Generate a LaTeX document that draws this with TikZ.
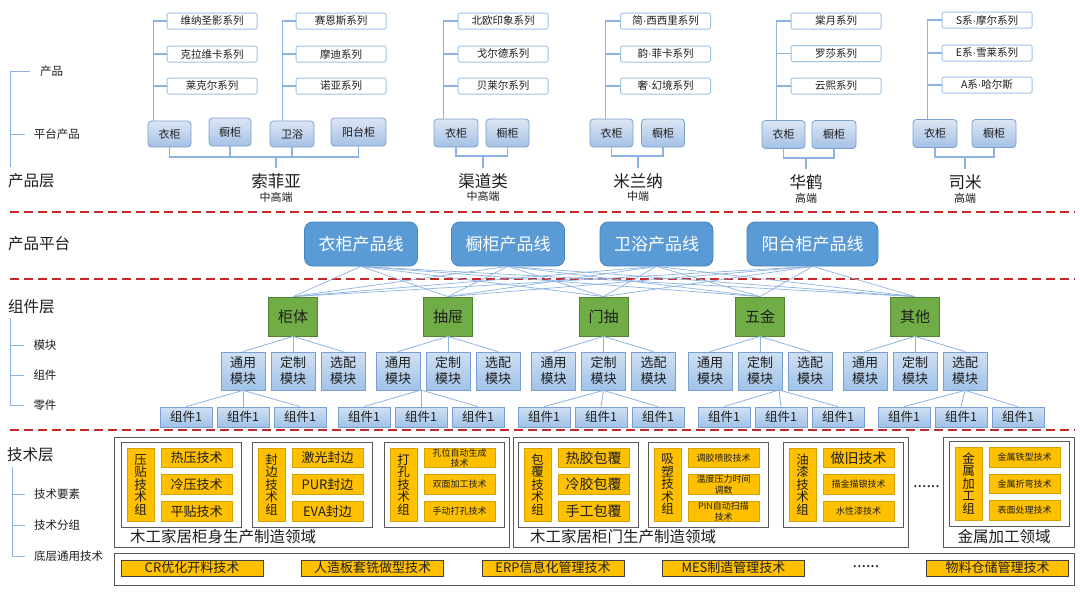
\documentclass[tikz,border=0pt]{standalone}
\usepackage{fontspec}
\setmainfont{Noto Sans CJK SC}
\newfontfamily\latinfont{Liberation Sans}
\usetikzlibrary{calc}
\definecolor{lnblue}{RGB}{141,179,226}
\definecolor{serbd}{RGB}{157,195,230}
\definecolor{pbtop}{RGB}{220,230,243}
\definecolor{pbbot}{RGB}{164,193,230}
\definecolor{pbbd}{RGB}{122,160,210}
\definecolor{plfill}{RGB}{91,155,213}
\definecolor{plbd}{RGB}{72,132,192}
\definecolor{grfill}{RGB}{112,173,71}
\definecolor{grbd}{RGB}{84,130,53}
\definecolor{mdtop}{RGB}{208,224,243}
\definecolor{mdbot}{RGB}{160,194,231}
\definecolor{mdbd}{RGB}{122,160,210}
\definecolor{ylw}{RGB}{255,192,0}
\definecolor{ylbd}{RGB}{214,162,0}
\definecolor{redd}{RGB}{196,40,40}
\definecolor{txt}{RGB}{30,30,30}
\definecolor{gbd}{RGB}{89,89,89}
\newcommand\myfs[2]{\fontsize{#1pt}{#2pt}\selectfont}
\newcommand\mdot{{\latinfont ·}}
\begin{document}
\begin{tikzpicture}[x=1pt,y=-1pt,
  every node/.style={inner sep=0pt,text=txt},
  tree/.style={draw=lnblue,line width=1.1pt},
  thin tree/.style={draw=lnblue,line width=0.8pt},
  mesh/.style={draw=lnblue,line width=0.7pt},
  sepline/.style={draw=redd,line width=1.8pt,dash pattern=on 9pt off 5pt},
  series/.style={draw=serbd,fill=white,line width=1pt,rounded corners=1.5pt,minimum width=90pt,minimum height=16pt,font=\myfs{10.5}{11}},
  pbox/.style={draw=pbbd,top color=pbtop,bottom color=pbbot,line width=0.8pt,rounded corners=3.5pt,minimum width=44pt,minimum height=28pt,font=\myfs{11}{12}},
  brand/.style={font=\myfs{16.5}{17}},
  grade/.style={font=\myfs{11}{12}},
  title/.style={anchor=west,font=\myfs{15.5}{16}},
  legend/.style={font=\myfs{11.5}{12}},
  pline/.style={fill=plfill,draw=plbd,line width=0.8pt,rounded corners=8pt,minimum height=44pt,minimum width=113pt,text=white,font=\myfs{17}{18}},
  grbox/.style={fill=grfill,draw=grbd,line width=0.8pt,minimum width=49pt,minimum height=39pt,font=\myfs{15}{16}},
  module/.style={draw=mdbd,top color=mdtop,bottom color=mdbot,line width=0.8pt,minimum width=44pt,minimum height=38pt,align=center,font=\myfs{13}{16}},
  comp/.style={draw=mdbd,top color=mdtop,bottom color=mdbot,line width=0.8pt,minimum width=52pt,minimum height=20pt,font=\myfs{12.5}{13}},
  dom/.style={draw=gbd,line width=1pt,fill=white},
  inbox/.style={draw=gbd,line width=1pt,fill=white,minimum width=120pt,minimum height=85pt},
  glab/.style={fill=ylw,draw=ylbd,line width=0.8pt,minimum width=27pt,minimum height=73pt,align=center,font=\myfs{12.5}{12.5}},
  tit/.style={fill=ylw,draw=ylbd,line width=0.8pt,minimum width=71pt,minimum height=19.5pt,align=center,font=\myfs{13}{13}},
  tis/.style={tit,font=\myfs{9}{10.5}},
  bit/.style={fill=ylw,draw=black!75,line width=1pt,minimum width=142pt,minimum height=16pt,font=\myfs{13}{13}},
  dname/.style={font=\myfs{15.5}{16}},
  dots/.style={font=\myfs{16}{16}}
]
\useasboundingbox (0,0) rectangle (1080,608);
\fill[white] (0,0) rectangle (1080,608);

% ---------------- legends and titles ----------------
\node[title] (t1) at (8,181) {产品层};
\node[title] (t2) at (8,244) {产品平台};
\node[title] (t3) at (8,307) {组件层};
\node[title] (t4) at (7,455) {技术层};

\node[legend] (l11) at (51.5,71) {产品};
\node[legend] (l12) at (57,134) {平台产品};
\coordinate (lv1a) at (10,71);
\coordinate (lv1b) at (10,167);
\draw[thin tree] (30,71) -- (lv1a) -- (lv1b);
\draw[thin tree] (10,134) -- (25,134);

\node[legend] (l21) at (45,345) {模块};
\node[legend] (l22) at (45,375) {组件};
\node[legend] (l23) at (45,405) {零件};
\coordinate (lv2a) at (10,318);
\coordinate (lv2b) at (10,405);
\draw[thin tree] (lv2a) -- (lv2b) -- (24,405);
\draw[thin tree] (10,345) -- (24,345);
\draw[thin tree] (10,375) -- (24,375);

\node[legend,anchor=west] (l31) at (34,494) {技术要素};
\node[legend,anchor=west] (l32) at (34,525) {技术分组};
\node[legend,anchor=west] (l33) at (34,556) {底层通用技术};
\coordinate (lv3a) at (12,467);
\coordinate (lv3b) at (12,556);
\draw[thin tree] (lv3a) -- (lv3b) -- (25,556);
\draw[thin tree] (12,494) -- (25,494);
\draw[thin tree] (12,525) -- (25,525);

% ---------------- separators ----------------
\draw[sepline] (10,212) -- (1075,212);
\draw[sepline] (10,279) -- (1075,279);
\draw[sepline] (10,430) -- (1075,430);

% ---------------- 索菲亚 ----------------
\node[series] (s11) at (212,21) {维纳圣影系列};
\node[series] (s12) at (212,54) {克拉维卡系列};
\node[series] (s13) at (212,86) {莱克尔系列};
\node[series] (s21) at (341,21) {赛恩斯系列};
\node[series] (s22) at (341,54) {摩迪系列};
\node[series] (s23) at (341,86) {诺亚系列};
\node[pbox,minimum width=43pt,minimum height=26pt] (a1) at (169.5,134) {衣柜};
\node[pbox,minimum width=42pt] (a2) at (230,132) {橱柜};
\node[pbox,minimum width=44pt,minimum height=26pt] (a3) at (292,134) {卫浴};
\node[pbox,minimum width=55pt] (a4) at (358.5,132) {阳台柜};
\coordinate (av1) at ([xshift=6pt]a1.north west);
\coordinate (av2) at ([xshift=13pt]a3.north west);
\draw[tree] (s11.west) -| (av1);
\draw[tree] (s12.west) -- (s12.west -| av1);
\draw[tree] (s13.west) -- (s13.west -| av1);
\draw[tree] (s21.west) -| (av2);
\draw[tree] (s22.west) -- (s22.west -| av2);
\draw[tree] (s23.west) -- (s23.west -| av2);
\coordinate (aj) at (276,157);
\node[brand] (n1) at (276,181) {索菲亚};
\node[grade] (d1) at (276,197) {中高端};
\draw[tree] (a1.south) |- (aj) -| (a4.south);
\draw[tree] (a2.south) -- (a2.south |- aj);
\draw[tree] (a3.south) -- (a3.south |- aj);
\draw[tree] (aj) -- ([yshift=5pt]n1.north);

% ---------------- 渠道类 ----------------
\node[series] (c1) at (503,21) {北欧印象系列};
\node[series] (c2) at (503,54) {戈尔德系列};
\node[series] (c3) at (503,86) {贝莱尔系列};
\node[pbox] (b1) at (456,133) {衣柜};
\node[pbox,minimum width=43pt] (b2) at (507.5,133) {橱柜};
\coordinate (bv) at ([xshift=10pt]b1.north west);
\draw[tree] (c1.west) -| (bv);
\draw[tree] (c2.west) -- (c2.west -| bv);
\draw[tree] (c3.west) -- (c3.west -| bv);
\coordinate (bj) at (483,156);
\node[brand] (n2) at (483,181) {渠道类};
\node[grade] (d2) at (483,196) {中高端};
\draw[tree] (b1.south) |- (bj) -| (b2.south);
\draw[tree] (bj) -- ([yshift=5pt]n2.north);

% ---------------- 米兰纳 ----------------
\node[series] (m1) at (665.5,21) {简\mdot 西西里系列};
\node[series] (m2) at (665.5,54) {韵\mdot 菲卡系列};
\node[series] (m3) at (665.5,86) {奢\mdot 幻境系列};
\node[pbox,minimum width=43pt] (e1) at (611.5,133) {衣柜};
\node[pbox,minimum width=43pt] (e2) at (663,133) {橱柜};
\coordinate (ev) at ([xshift=16pt]e1.north west);
\draw[tree] (m1.west) -| (ev);
\draw[tree] (m2.west) -- (m2.west -| ev);
\draw[tree] (m3.west) -- (m3.west -| ev);
\coordinate (ej) at (638,156);
\node[brand] (n3) at (638,181) {米兰纳};
\node[grade] (d3) at (638,196) {中端};
\draw[tree] (e1.south) |- (ej) -| (e2.south);
\draw[tree] (ej) -- ([yshift=5pt]n3.north);

% ---------------- 华鹤 ----------------
\node[series] (h1) at (836,21) {棠月系列};
\node[series] (h2) at (836,53.5) {罗莎系列};
\node[series] (h3) at (836,86) {云熙系列};
\node[pbox,minimum width=43pt] (f1) at (783.5,134.5) {衣柜};
\node[pbox,minimum width=44pt] (f2) at (834,134.5) {橱柜};
\coordinate (fv) at ([xshift=15pt]f1.north west);
\draw[tree] (h1.west) -| (fv);
\draw[tree] (h2.west) -- (h2.west -| fv);
\draw[tree] (h3.west) -- (h3.west -| fv);
\coordinate (fj) at (806,158);
\node[brand] (n4) at (806,182) {华鹤};
\node[grade] (d4) at (806,198) {高端};
\draw[tree] (f1.south) |- (fj) -| (f2.south);
\draw[tree] (fj) -- ([yshift=5pt]n4.north);

% ---------------- 司米 ----------------
\node[series] (k1) at (987,20) {S系\mdot 摩尔系列};
\node[series] (k2) at (987,53) {E系\mdot 雪莱系列};
\node[series] (k3) at (987,85) {A系\mdot 哈尔斯};
\node[pbox] (q1) at (935,133.5) {衣柜};
\node[pbox] (q2) at (994,133.5) {橱柜};
\coordinate (qv) at ([xshift=15pt]q1.north west);
\draw[tree] (k1.west) -| (qv);
\draw[tree] (k2.west) -- (k2.west -| qv);
\draw[tree] (k3.west) -- (k3.west -| qv);
\coordinate (qj) at (965,157);
\node[brand] (n5) at (965,182) {司米};
\node[grade] (d5) at (965,198) {高端};
\draw[tree] (q1.south) |- (qj) -| (q2.south);
\draw[tree] (qj) -- ([yshift=5pt]n5.north);

% ---------------- 产品平台 ----------------
\node[pline] (p1) at (361,244) {衣柜产品线};
\node[pline] (p2) at (508,244) {橱柜产品线};
\node[pline] (p3) at (656.5,244) {卫浴产品线};
\node[pline,minimum width=131pt] (p4) at (812.5,244) {阳台柜产品线};

% ---------------- 组件层 ----------------
\node[grbox] (g1) at (293,316.5) {柜体};
\node[grbox] (g2) at (448,316.5) {抽屉};
\node[grbox] (g3) at (603.5,316.5) {门抽};
\node[grbox] (g4) at (760,316.5) {五金};
\node[grbox] (g5) at (915,316.5) {其他};

\foreach \p in {p1,p2,p3,p4}{
  \foreach \g in {g1,g2,g3,g4,g5}{
    \draw[mesh] (\p.south) -- (\g.north);
  }
}

\foreach \g/\x in {g1/293,g2/448,g3/603.5,g4/760,g5/915}{
  \node[module] (\g a) at (\x-50,371) {通用\\模块};
  \node[module] (\g b) at (\x,371) {定制\\模块};
  \node[module] (\g c) at (\x+50,371) {选配\\模块};
  \draw[thin tree] (\g.south) -- (\g a.north);
  \draw[thin tree] (\g.south) -- (\g b.north);
  \draw[thin tree] (\g.south) -- (\g c.north);
}

\coordinate (src1) at (g1a.south);
\coordinate (src2) at (421,390);
\coordinate (src3) at (g3b.south);
\coordinate (src4) at (779,390);
\coordinate (src5) at (g5c.south);
\foreach \i/\x in {1/243,2/421,3/601,4/781,5/961}{
  \node[comp] (u\i a) at (\x-57,417) {组件1};
  \node[comp] (u\i b) at (\x,417) {组件1};
  \node[comp] (u\i c) at (\x+57,417) {组件1};
  \draw[thin tree] (src\i) -- (u\i a.north);
  \draw[thin tree] (src\i) -- (u\i b.north);
  \draw[thin tree] (src\i) -- (u\i c.north);
}

% ---------------- 技术层 ----------------
\node[dom,minimum width=395pt,minimum height=110pt] (D1) at (311.5,492) {};
\node[dom,minimum width=395pt,minimum height=110pt] (D2) at (710.5,492) {};
\node[dom,minimum width=131pt,minimum height=110pt] (D3) at (1008.5,492) {};
\node[dname] (D1n) at (223,537) {木工家居柜身生产制造领域};
\node[dname] (D2n) at (623,537) {木工家居柜门生产制造领域};
\node[dname] (D3n) at (1004,537) {金属加工领域};

% 压贴
\node[inbox] (G1) at (181,484.5) {};
\node[glab] (G1l) at (140.5,484.5) {压\\贴\\技\\术\\组};
\node[tit] (G1a) at (196.5,458) {热压技术};
\node[tit] (G1b) at (196.5,484.5) {冷压技术};
\node[tit] (G1c) at (196.5,511.5) {平贴技术};
% 封边
\node[inbox] (G2) at (312.5,484.5) {};
\node[glab] (G2l) at (271.5,484.5) {封\\边\\技\\术\\组};
\node[tit] (G2a) at (327.5,458) {激光封边};
\node[tit] (G2b) at (327.5,484.5) {PUR封边};
\node[tit] (G2c) at (327.5,511.5) {EVA封边};
% 打孔
\node[inbox] (G3) at (444,484.5) {};
\node[glab] (G3l) at (403.5,484.5) {打\\孔\\技\\术\\组};
\node[tis] (G3a) at (459.5,458) {孔位自动生成\\技术};
\node[tis] (G3b) at (459.5,484.5) {双面加工技术};
\node[tis] (G3c) at (459.5,511.5) {手动打孔技术};
% 包覆
\node[inbox] (G4) at (578,484.5) {};
\node[glab] (G4l) at (537.5,484.5) {包\\覆\\技\\术\\组};
\node[tit,font=\myfs{14}{14}] (G4a) at (593.5,458) {热胶包覆};
\node[tit,font=\myfs{14}{14}] (G4b) at (593.5,484.5) {冷胶包覆};
\node[tit,font=\myfs{14}{14}] (G4c) at (593.5,511.5) {手工包覆};
% 吸塑
\node[inbox] (G5) at (708,484.5) {};
\node[glab] (G5l) at (667.5,484.5) {吸\\塑\\技\\术\\组};
\node[tis] (G5a) at (723.5,458) {调胶喷胶技术};
\node[tis] (G5b) at (723.5,484.5) {温度压力时间\\调数};
\node[tis] (G5c) at (723.5,511.5) {PIN自动扫描\\技术};
% 油漆
\node[inbox] (G6) at (843,484.5) {};
\node[glab] (G6l) at (802.5,484.5) {油\\漆\\技\\术\\组};
\node[tit,font=\myfs{14}{14}] (G6a) at (858.5,458) {做旧技术};
\node[tis] (G6b) at (858.5,484.5) {描金描银技术};
\node[tis] (G6c) at (858.5,511.5) {水性漆技术};
% 金属
\node[inbox] (G7) at (1009,484) {};
\node[glab] (G7l) at (968.5,483.5) {金\\属\\加\\工\\组};
\node[tis] (G7a) at (1024.5,457.5) {金属铁型技术};
\node[tis] (G7b) at (1024.5,484) {金属折弯技术};
\node[tis] (G7c) at (1024.5,510.5) {表面处理技术};

\node[dots] (dt1) at (926.5,487) {......};

% bottom bar
\node[dom,minimum width=960pt,minimum height=32pt] (BB) at (594,569) {};
\node[bit] (B1) at (192,568) {CR优化开料技术};
\node[bit] (B2) at (372.5,568) {人造板套铣做型技术};
\node[bit] (B3) at (553,568) {ERP信息化管理技术};
\node[bit] (B4) at (733.5,568) {MES制造管理技术};
\node[dots] (dt2) at (866,567) {......};
\node[bit] (B5) at (997.5,568) {物料仓储管理技术};
\end{tikzpicture}
\end{document}
